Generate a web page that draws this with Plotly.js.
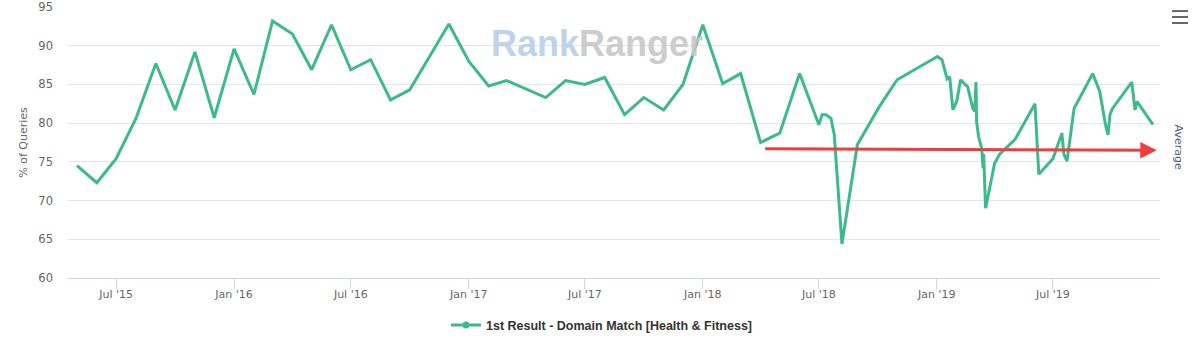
<!DOCTYPE html>
<html>
<head>
<meta charset="utf-8">
<script src="https://cdn.plot.ly/plotly-3.0.1.min.js"></script>
<style>html,body{margin:0;padding:0;background:#fff;}#chart{width:1200px;height:357px;}</style>
</head>
<body>
<div id="chart"></div>
<script>
// ---- data ----
const seriesName = "1st Result - Domain Match [Health & Fitness]";
const dates = [
"2015-05-01","2015-06-01","2015-07-01","2015-08-01","2015-09-01","2015-10-01","2015-11-01","2015-12-01",
"2016-01-01","2016-02-01","2016-03-01","2016-04-01","2016-05-01","2016-06-01","2016-07-01","2016-08-01","2016-09-01","2016-10-01","2016-12-01",
"2017-01-01","2017-02-01","2017-03-01","2017-05-01","2017-06-01","2017-07-01","2017-08-01","2017-09-01","2017-10-01","2017-11-01","2017-12-01",
"2018-01-01","2018-02-01","2018-03-01","2018-04-01","2018-05-01","2018-06-01","2018-07-01","2018-07-06","2018-07-12","2018-07-20","2018-07-25","2018-07-29","2018-08-06","2018-08-30","2018-10-03","2018-10-31",
"2019-01-02","2019-01-09","2019-01-17","2019-01-21","2019-01-26","2019-02-01","2019-02-07","2019-02-14","2019-02-18","2019-02-26",
"2019-03-01","2019-03-03","2019-03-04","2019-03-07","2019-03-12","2019-03-14","2019-03-15","2019-03-18","2019-04-01","2019-04-09",
"2019-05-03","2019-06-03","2019-06-06","2019-06-09","2019-07-01","2019-07-15","2019-07-18","2019-07-23","2019-08-03",
"2019-09-01","2019-09-12","2019-09-21","2019-09-25","2019-09-28","2019-10-02","2019-11-01","2019-11-06","2019-11-09","2019-12-04"
];
const values = [
74.5,72.3,75.4,80.6,87.7,81.7,89.2,80.7,
89.6,83.7,93.2,91.5,86.9,92.7,86.9,88.2,83.0,84.3,92.8,
88.0,84.8,85.5,83.3,85.5,85.0,85.9,81.1,83.3,81.7,85.0,
92.7,85.1,86.4,77.5,78.7,86.4,79.8,81.1,81.1,80.6,78.5,74.2,64.4,77.2,82.1,85.6,
88.6,88.2,85.7,86.0,81.7,82.8,85.6,85.0,84.7,81.9,
81.5,85.3,80.2,78.3,76.7,74.2,76.0,69.0,74.8,76.0,
77.9,82.5,78.3,73.4,75.4,78.7,76.0,75.1,81.9,
86.4,84.1,79.8,78.5,81.1,81.9,85.3,81.7,82.8,79.8
];
const xRange = ["2015-04-17","2019-12-15"];
const yRange = [60, 95];
const yTicks = [60, 65, 70, 75, 80, 85, 90, 95];
const arrowStart = {date: "2018-04-06", value: 76.7};
const arrowEnd = {date: "2019-12-10", value: 76.5};

const green = "#3dba8a";
const fontFam = "DejaVu Sans, Verdana, sans-serif";

const traces = [
  {x: dates, y: values, type: "scatter", mode: "lines", line: {color: green, width: 3}, showlegend: false, hoverinfo: "x+y"},
  {x: [null], y: [null], type: "scatter", mode: "lines+markers", name: seriesName,
   line: {color: green, width: 3}, marker: {color: green, size: 7}, showlegend: true}
];

const layout = {
  width: 1200, height: 357,
  margin: {l: 68, r: 40, t: 7, b: 79},
  paper_bgcolor: "#fff", plot_bgcolor: "#fff",
  font: {family: fontFam, color: "#666", size: 11},
  xaxis: {
    type: "date", range: xRange, tick0: "2015-07-01", dtick: "M6", tickformat: "%b '%y",
    showgrid: false, zeroline: false, showline: true, linecolor: "#ccd6eb", linewidth: 1,
    ticks: "outside", ticklen: 10, tickcolor: "#ccd6eb", tickwidth: 1, ticklabelstandoff: -4,
    tickfont: {family: fontFam, size: 11, color: "#666"}, fixedrange: true
  },
  yaxis: {
    range: yRange, tickvals: yTicks, showgrid: true, gridcolor: "#e6e6e6", gridwidth: 1,
    zeroline: false, showline: false, ticks: "", ticklabelstandoff: 14, ticklabeloverflow: "allow",
    tickfont: {family: fontFam, size: 11.5, color: "#666"},
    title: {text: "% of Queries", font: {family: fontFam, size: 11, color: "#666"}, standoff: 8},
    fixedrange: true
  },
  legend: {
    orientation: "h", x: 0.489, xanchor: "center", y: -0.175, yanchor: "middle",
    font: {family: "Liberation Sans, Arial, sans-serif", size: 12.5, color: "#333", weight: "bold"},
    bgcolor: "rgba(0,0,0,0)", itemwidth: 30
  },
  annotations: [
    {xref: "paper", yref: "paper", x: 0.4844, y: 0.864, xanchor: "center", yanchor: "middle", showarrow: false,
     text: "<b><span style='color:#b9cfea'>Rank</span><span style='color:#c8c8c8'>Ranger</span></b>",
     font: {family: "Liberation Sans, Arial, sans-serif", size: 36}, opacity: 0.9},
    {xref: "x", yref: "y", axref: "x", ayref: "y", x: arrowEnd.date, y: arrowEnd.value,
     ax: arrowStart.date, ay: arrowStart.value, showarrow: true, arrowhead: 2, arrowsize: 1.1,
     arrowwidth: 3, arrowcolor: "#ef3c3c", text: ""},
    {xref: "paper", yref: "paper", x: 1.0165, y: 0.485, xanchor: "center", yanchor: "middle", showarrow: false,
     text: "Average", textangle: 90, font: {family: fontFam, size: 11, color: "#4d6587"}}
  ],
  shapes: [
    {type: "line", xref: "paper", yref: "paper", x0: 1.011, x1: 1.0256, y0: 0.985, y1: 0.985, line: {color: "#666", width: 2}},
    {type: "line", xref: "paper", yref: "paper", x0: 1.011, x1: 1.0256, y0: 0.963, y1: 0.963, line: {color: "#666", width: 2}},
    {type: "line", xref: "paper", yref: "paper", x0: 1.011, x1: 1.0256, y0: 0.941, y1: 0.941, line: {color: "#666", width: 2}}
  ]
};

Plotly.newPlot("chart", traces, layout, {displayModeBar: false, staticPlot: false});
</script>
</body>
</html>
